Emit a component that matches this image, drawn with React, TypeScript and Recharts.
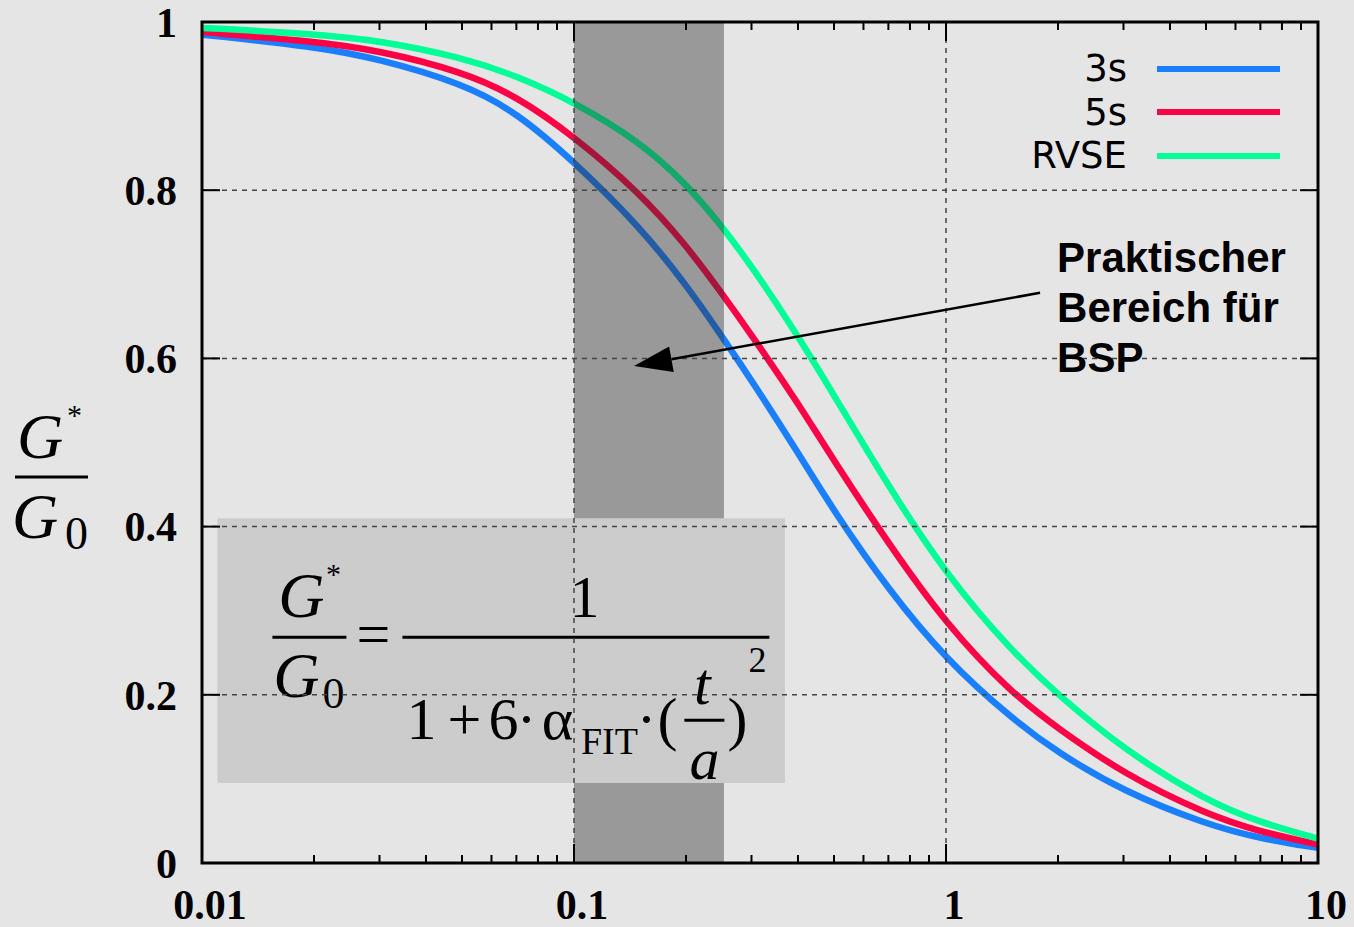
import { ComposedChart, Line, XAxis, YAxis, ReferenceArea, ReferenceLine, Legend } from 'recharts'

// t/a values (log axis) and G*/G0
const T = [0.01, 0.02, 0.03, 0.05, 0.07, 0.1, 0.15, 0.2, 0.25, 0.3, 0.4, 0.5, 0.7, 1, 1.5, 2, 3, 5, 7, 10]
const S3 = [0.985, 0.971, 0.956, 0.927, 0.893, 0.834, 0.757, 0.688, 0.626, 0.574, 0.488, 0.418, 0.325, 0.242, 0.172, 0.131, 0.085, 0.046, 0.029, 0.018]
const S5 = [0.988, 0.977, 0.966, 0.941, 0.912, 0.864, 0.797, 0.735, 0.677, 0.628, 0.547, 0.478, 0.38, 0.284, 0.202, 0.16, 0.106, 0.058, 0.037, 0.022]
const RVSE = [0.993, 0.986, 0.978, 0.958, 0.936, 0.905, 0.858, 0.808, 0.757, 0.71, 0.627, 0.556, 0.448, 0.343, 0.252, 0.2, 0.135, 0.074, 0.048, 0.029]

const X_MAJOR = [0.01, 0.1, 1, 10]
const X_MINOR = [0.02, 0.03, 0.04, 0.05, 0.06, 0.07, 0.08, 0.09, 0.2, 0.3, 0.4, 0.5, 0.6, 0.7, 0.8, 0.9, 2, 3, 4, 5, 6, 7, 8, 9]
const Y_TICKS = [0, 0.2, 0.4, 0.6, 0.8, 1]
const X_GRID = [0.1, 1]
const Y_GRID = [0.2, 0.4, 0.6, 0.8]

const SHADE_X = [0.1, 0.253]
const BOX_X = [0.011, 0.369]
const BOX_Y = [0.095, 0.41]
const ARROW_TAIL = { x: 1.79, y: 0.678 }
const ARROW_TIP = { x: 0.145, y: 0.591 }
const NOTE = ['Praktischer', 'Bereich für', 'BSP']

const SERIES = [
  { key: 's3', name: '3s', color: '#1a7fff' },
  { key: 's5', name: '5s', color: '#ff0046' },
  { key: 'rvse', name: 'RVSE', color: '#00ff96' },
]

const data = T.map((t, i) => ({ t, s3: S3[i], s5: S5[i], rvse: RVSE[i] }))

const W = 1354
const H = 927
const MARGIN = { top: 22, right: 36, bottom: 0, left: 0 }
const Y_AXIS_W = 202
const X_AXIS_H = 64
const PLOT_W = W - MARGIN.left - MARGIN.right - Y_AXIS_W
const PLOT_H = H - MARGIN.top - MARGIN.bottom - X_AXIS_H

const BG = '#e5e5e5'
const TICK_FONT = { fontFamily: 'Liberation Serif', fontWeight: 'bold', fontSize: 42, fill: '#000' } as const
const MATH = 'Liberation Serif'

const XTick = (props: any) => {
  const { x, y, payload } = props
  const major = X_MAJOR.includes(payload.value)
  const len = major ? 19 : 8
  return (
    <g>
      <line x1={x} x2={x} y1={y} y2={y - len} stroke="#000" strokeWidth={2} />
      <line x1={x} x2={x} y1={y - PLOT_H} y2={y - PLOT_H + len} stroke="#000" strokeWidth={2} />
      {major && (
        <text x={x + 8} y={y + 56} textAnchor="middle" {...TICK_FONT}>
          {String(payload.value)}
        </text>
      )}
    </g>
  )
}

const YTick = (props: any) => {
  const { x, y, payload } = props
  return (
    <g>
      <line x1={x} x2={x + 18} y1={y} y2={y} stroke="#000" strokeWidth={2} />
      <line x1={x + PLOT_W - 18} x2={x + PLOT_W} y1={y} y2={y} stroke="#000" strokeWidth={2} />
      <text x={x - 25} y={y} dy="0.35em" textAnchor="end" {...TICK_FONT}>
        {String(payload.value)}
      </text>
    </g>
  )
}

const YLabel = (props: any) => {
  const { x, y } = props.viewBox
  return (
    <g fill="#000" fontFamily={MATH}>
      <text x={x + 17} y={y + 436} fontSize={64} fontStyle="italic">G</text>
      <text x={x + 67} y={y + 403} fontSize={30}>*</text>
      <line x1={x + 15} x2={x + 88} y1={y + 455} y2={y + 455} stroke="#000" strokeWidth={3} />
      <text x={x + 12} y={y + 516} fontSize={64} fontStyle="italic">G</text>
      <text x={x + 65} y={y + 527} fontSize={46}>0</text>
    </g>
  )
}

const Formula = (props: any) => {
  const { x, y } = props.viewBox
  const mid = (dx: number, dy: number, s: string, size = 60, italic = false) => (
    <text x={x + dx} y={y + dy} textAnchor="middle" fontSize={size} fontStyle={italic ? 'italic' : 'normal'}>
      {s}
    </text>
  )
  return (
    <g fill="#000" fontFamily={MATH}>
      {mid(84, 99, 'G', 64, true)}
      {mid(116, 66, '*', 30)}
      <line x1={x + 55} x2={x + 129} y1={y + 119} y2={y + 119} stroke="#000" strokeWidth={3} />
      {mid(79, 179, 'G', 64, true)}
      {mid(116, 190, '0', 44)}
      {mid(156, 136, '=', 60)}
      <line x1={x + 185} x2={x + 552} y1={y + 119} y2={y + 119} stroke="#000" strokeWidth={3} />
      {mid(367, 99, '1')}
      {mid(204, 221, '1')}
      {mid(247, 221, '+')}
      {mid(286, 221, '6')}
      {mid(309, 221, '·')}
      {mid(340, 221, 'α')}
      {mid(392, 236, 'FIT', 38)}
      {mid(429, 221, '·')}
      {mid(450, 221, '(')}
      {mid(485, 186, 't', 60, true)}
      <line x1={x + 467} x2={x + 507} y1={y + 202} y2={y + 202} stroke="#000" strokeWidth={3} />
      {mid(487, 261, 'a', 60, true)}
      {mid(520, 221, ')')}
      {mid(540, 154, '2', 36)}
    </g>
  )
}

const Arrow = (props: any) => {
  const { x1, y1, x2, y2 } = props
  const dx = x2 - x1
  const dy = y2 - y1
  const len = Math.hypot(dx, dy)
  const ux = dx / len
  const uy = dy / len
  const bx = x2 - ux * 38
  const by = y2 - uy * 38
  const px = -uy * 13
  const py = ux * 13
  return (
    <g>
      <line x1={x1} y1={y1} x2={bx} y2={by} stroke="#000" strokeWidth={2.5} />
      <polygon points={`${x2},${y2} ${bx + px},${by + py} ${bx - px},${by - py}`} fill="#000" />
      {NOTE.map((s, i) => (
        <text key={s} x={x1 + 17} y={y1 - 21 + i * 50} fontFamily="Liberation Sans" fontWeight="bold" fontSize={42} fill="#000">
          {s}
        </text>
      ))}
    </g>
  )
}

const LegendBox = (props: any) => (
  <div style={{ fontFamily: 'DejaVu Sans', fontSize: 37, color: '#000' }}>
    {(props.payload || []).map((p: any) => (
      <div key={p.value} style={{ display: 'flex', alignItems: 'center', height: 43.5 }}>
        <span style={{ width: 150, textAlign: 'right', lineHeight: 1 }}>{p.value}</span>
        <span style={{ width: 123, height: 6, background: p.color, marginLeft: 30 }} />
      </div>
    ))}
  </div>
)

export default function App() {
  return (
    <div style={{ position: 'absolute', left: 0, top: 0, width: W, height: H, background: BG }}>
      <ComposedChart width={W} height={H} data={data} margin={MARGIN}>
        {SERIES.map((s) => (
          <Line
            key={s.key}
            dataKey={s.key}
            name={s.name}
            type="basis"
            stroke={s.color}
            strokeWidth={6.5}
            dot={false}
            activeDot={false}
            isAnimationActive={false}
          />
        ))}
        <ReferenceArea x1={SHADE_X[0]} x2={SHADE_X[1]} y1={0} y2={1} fill="#303030" fillOpacity={0.42} stroke="none" zIndex={450} />
        <ReferenceArea
          x1={BOX_X[0]}
          x2={BOX_X[1]}
          y1={BOX_Y[0]}
          y2={BOX_Y[1]}
          fill="#cccccc"
          fillOpacity={1}
          stroke="none"
          zIndex={460}
          label={(p: any) => <Formula {...p} />}
        />
        {X_GRID.map((v) => (
          <ReferenceLine key={'x' + v} x={v} stroke="#444" strokeWidth={1.5} strokeDasharray="5 5" zIndex={470} />
        ))}
        {Y_GRID.map((v) => (
          <ReferenceLine key={'y' + v} y={v} stroke="#444" strokeWidth={1.5} strokeDasharray="5 5" zIndex={470} />
        ))}
        <ReferenceArea x1={X_MAJOR[0]} x2={X_MAJOR[3]} y1={0} y2={1} fill="none" stroke="#000" strokeWidth={3} zIndex={480} />
        <ReferenceLine segment={[ARROW_TAIL, ARROW_TIP]} shape={(p: any) => <Arrow {...p} />} zIndex={490} />
        <XAxis
          dataKey="t"
          type="number"
          scale="log"
          domain={[0.01, 10]}
          ticks={[...X_MAJOR, ...X_MINOR].sort((a, b) => a - b)}
          interval={0}
          tick={<XTick />}
          tickSize={0}
          tickMargin={0}
          axisLine={false}
          tickLine={false}
          height={X_AXIS_H}
          allowDataOverflow
        />
        <YAxis
          type="number"
          domain={[0, 1]}
          ticks={Y_TICKS}
          interval={0}
          tick={<YTick />}
          tickSize={0}
          tickMargin={0}
          axisLine={false}
          tickLine={false}
          width={Y_AXIS_W}
          label={(p: any) => <YLabel {...p} />}
        />
        <Legend
          layout="vertical"
          align="center"
          verticalAlign="middle"
          content={<LegendBox />}
          wrapperStyle={{ left: 977, top: 47, width: 303, height: 131 }}
        />
      </ComposedChart>
    </div>
  )
}
